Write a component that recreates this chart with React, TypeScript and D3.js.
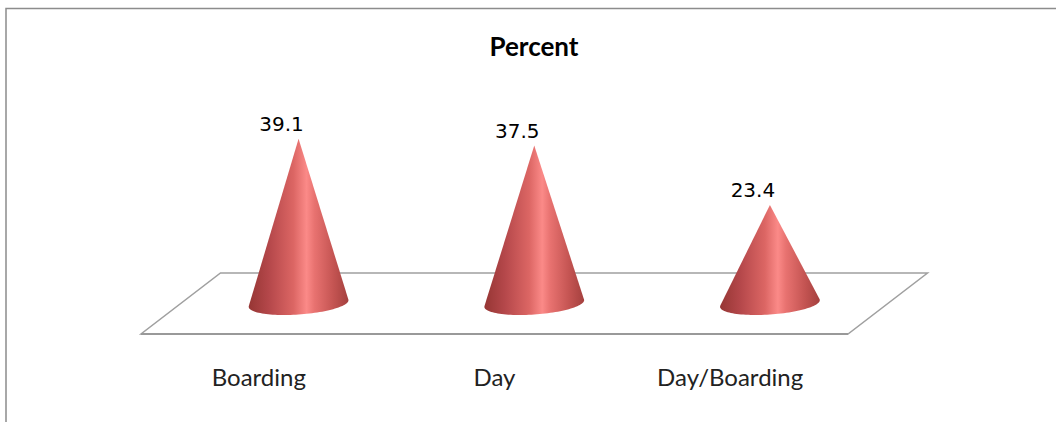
import React from "react";
import * as d3 from "d3";

const categories = ["Boarding", "Day", "Day/Boarding"];
const percents = [39.1, 37.5, 23.4];
const chartTitle = "Percent";

const W = 1056;
const H = 422;

export default function App() {
  // floor front edge spans the category bands; back edge is shifted by depth
  const x = d3.scaleBand<string>().domain(categories).range([141, 848]).padding(0);
  const depthX = 79.5;
  const depthY = -61;
  const floorY = 334;
  const baseY = floorY + depthY / 2;
  const y = d3.scaleLinear().domain([0, 40]).range([baseY, baseY - 168.5]);

  const rx = 50;
  const ry = 11;
  const tilt = (-4 * Math.PI) / 180;

  const floor = d3.path();
  floor.moveTo(141, floorY);
  floor.lineTo(848, floorY);
  floor.lineTo(848 + depthX, floorY + depthY);
  floor.lineTo(141 + depthX, floorY + depthY);
  floor.closePath();

  const conePath = (cx: number, cy: number, apexY: number) => {
    // silhouette: apex → tangent points on base ellipse → front half of ellipse
    const pts: [number, number][] = [];
    const n = 60;
    const ax = cx;
    const ay = apexY;
    const pt = (t: number): [number, number] => {
      const ex = rx * Math.cos(t);
      const ey = ry * Math.sin(t);
      return [
        cx + ex * Math.cos(tilt) - ey * Math.sin(tilt),
        cy + ex * Math.sin(tilt) + ey * Math.cos(tilt),
      ];
    };
    // tangent where the cross product of (p - apex) and the ellipse derivative vanishes
    const cross = (t: number) => {
      const [px, py] = pt(t);
      const dxe = -rx * Math.sin(t);
      const dye = ry * Math.cos(t);
      const dx = dxe * Math.cos(tilt) - dye * Math.sin(tilt);
      const dy = dxe * Math.sin(tilt) + dye * Math.cos(tilt);
      return (px - ax) * dy - (py - ay) * dx;
    };
    const solve = (lo: number, hi: number) => {
      let a = lo;
      let b = hi;
      for (let i = 0; i < 60; i++) {
        const m = (a + b) / 2;
        if (Math.sign(cross(m)) === Math.sign(cross(a))) a = m;
        else b = m;
      }
      return (a + b) / 2;
    };
    const tRight = solve(-Math.PI / 2, Math.PI / 2);
    const tLeft = solve(Math.PI / 2, (3 * Math.PI) / 2);
    for (let i = 0; i <= n; i++) {
      const t = tRight + ((tLeft - tRight) * i) / n;
      pts.push(pt(t));
    }
    const p = d3.path();
    p.moveTo(ax, ay);
    pts.forEach(([px, py]) => p.lineTo(px, py));
    p.closePath();
    return p.toString();
  };

  return (
    <svg
      width={W}
      height={H}
      style={{ position: "absolute", left: 0, top: 0, background: "#fff" }}
    >
      <defs>
        <linearGradient id="coneFill" x1="0" x2="1" y1="0" y2="0">
          <stop offset="0%" stopColor="#963634" />
          <stop offset="20%" stopColor="#b4474a" />
          <stop offset="45%" stopColor="#dc6664" />
          <stop offset="58%" stopColor="#fb8a88" />
          <stop offset="66%" stopColor="#e87270" />
          <stop offset="85%" stopColor="#c45452" />
          <stop offset="100%" stopColor="#a4403e" />
        </linearGradient>
      </defs>
      <rect x={0} y={0} width={W} height={H} fill="#fff" />
      <rect
        x={6}
        y={8.5}
        width={W + 20}
        height={H + 20}
        fill="none"
        stroke="#8c8c8c"
        strokeWidth={1.5}
      />
      <text
        x={534}
        y={56}
        textAnchor="middle"
        fontFamily="Lato, 'Open Sans', sans-serif"
        fontWeight="bold"
        fontSize={26}
        fill="#000"
      >
        {chartTitle}
      </text>
      <path d={floor.toString()} fill="#fff" stroke="#a0a0a0" strokeWidth={1.5} />
      <line x1={141} x2={848} y1={floorY} y2={floorY} stroke="#999" strokeWidth={2} />
      {categories.map((c, i) => {
        const cx = (x(c) ?? 0) + x.bandwidth() / 2 + depthX / 2;
        const apexY = y(percents[i]);
        return (
          <g key={c}>
            <path d={conePath(cx, baseY, apexY)} fill="url(#coneFill)" />
            <text
              x={cx - 17}
              y={apexY - 8}
              textAnchor="middle"
              fontFamily="'DejaVu Sans', sans-serif"
              fontSize={20}
              fill="#000"
            >
              {percents[i].toFixed(1)}
            </text>
          </g>
        );
      })}
      {categories.map((c) => (
        <text
          key={c}
          x={(x(c) ?? 0) + x.bandwidth() / 2}
          y={386}
          textAnchor="middle"
          fontFamily="Lato, 'Open Sans', sans-serif"
          fontSize={24}
          fill="#222"
        >
          {c}
        </text>
      ))}
    </svg>
  );
}
